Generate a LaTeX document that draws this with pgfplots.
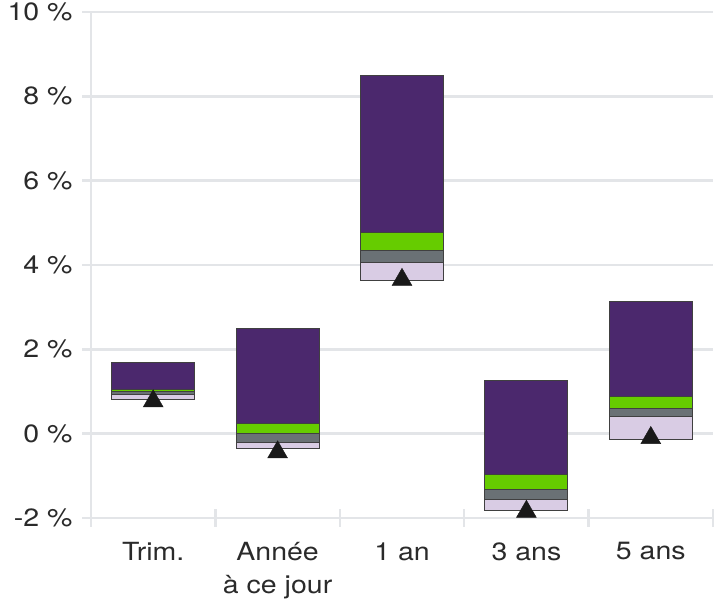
\documentclass[border=0pt]{standalone}
\usepackage{fontspec}
\setmainfont{TeX Gyre Heros}[FakeStretch=1.14]
\usepackage{pgfplots}
\pgfplotsset{compat=1.18}

\definecolor{tpurple}{HTML}{4B286D}
\definecolor{tgreen}{HTML}{66CC00}
\definecolor{tgrey}{HTML}{6A7175}
\definecolor{tlilac}{HTML}{D9CCE4}
\definecolor{gridc}{HTML}{E3E5E8}
\definecolor{labc}{HTML}{2A2A2A}

\pgfplotsset{
  base/.style={
    width=622pt, height=506pt, scale only axis,
    xmin=-0.5, xmax=4.5, ymin=-2, ymax=10,
  },
  seg/.style={fill=#1, draw=black!75, line width=0.9pt},
}

\begin{document}
\fontsize{25}{33}\selectfont
\begin{tikzpicture}
\begin{axis}[
  base,
  name=main,
  ybar stacked,
  stack negative=on previous,
  bar width=0.667,
  axis lines=left,
  axis line style={-, draw=gridc, line width=2.5pt},
  ymajorgrids,
  grid style={gridc, line width=2.5pt},
  tick style={gridc, line width=2.5pt},
  major tick length=18pt,
  tick align=center,
  ytick={-2,0,2,4,6,8,10},
  yticklabels={-2 \%,0 \%,2 \%,4 \%,6 \%,8 \%,10 \%},
  xtick={-0.5,0.5,1.5,2.5,3.5,4.5},
  xticklabels={},
  extra x ticks={0,1,2,3,4},
  extra x tick labels={Trim.,Année\\à ce jour,1 an,3 ans,5 ans},
  extra x tick style={grid=none, major tick length=0pt},
  tick label style={text=labc, font=\fontsize{25}{33}\selectfont},
  x tick label style={align=center, yshift=-16pt},
  y tick label style={xshift=-1pt},
]
% invisible base of each range
\addplot[fill=none, draw=none] coordinates {(0,0.82) (1,-0.36) (2,3.63) (3,-1.81) (4,-0.14)};
% lilac
\addplot[seg=tlilac] coordinates {(0,0.11) (1,0.16) (2,0.42) (3,0.24) (4,0.54)};
% grey
\addplot[seg=tgrey] coordinates {(0,0.07) (1,0.20) (2,0.30) (3,0.25) (4,0.19)};
% green
\addplot[seg=tgreen] coordinates {(0,0.05) (1,0.25) (2,0.42) (3,0.35) (4,0.30)};
% purple
\addplot[seg=tpurple] coordinates {(0,0.64) (1,2.24) (2,3.73) (3,2.24) (4,2.25)};
\end{axis}

\begin{axis}[base, hide axis, clip=false]
\addplot[only marks, mark=triangle*, mark size=11.5pt, color=black!90]
  coordinates {(0,0.77) (1,-0.44) (2,3.65) (3,-1.85) (4,-0.10)};
\end{axis}
\pgfresetboundingbox
\path[use as bounding box] ([shift={(-91pt,-85pt)}]main.south west) rectangle ([shift={(2pt,12pt)}]main.north east);
\end{tikzpicture}
\end{document}
